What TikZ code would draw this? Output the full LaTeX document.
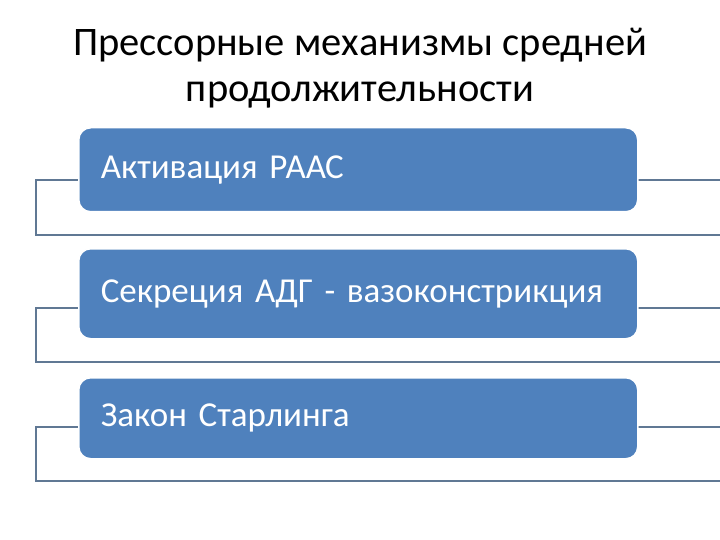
\documentclass[tikz,border=0pt]{standalone}
\usepackage{fontspec}
\setmainfont{Carlito}
\definecolor{boxblue}{RGB}{79,129,189}
\definecolor{bracketline}{RGB}{96,120,148}
\tikzset{
  itembox/.style={draw=white, line width=1.5pt, fill=boxblue, rounded corners=12pt,
    anchor=north west, minimum width=559pt, minimum height=#1, inner xsep=22pt,
    text width=515pt, align=left, text=white, font=\fontsize{35}{42}\selectfont},
  bracket/.style={draw=bracketline, line width=1.6pt},
  titletext/.style={align=center, font=\fontsize{40.5}{46}\selectfont, text=black}
}
\begin{document}
\begin{tikzpicture}[x=1pt,y=-1pt]
\useasboundingbox[fill=white] (0,0) rectangle (720,540);
\node[titletext] (title) at (360,68) {Прессорные механизмы средней\\продолжительности};
% brackets
\coordinate (b1a) at (720,180); \coordinate (b1b) at (36,180);
\coordinate (b1c) at (36,235); \coordinate (b1d) at (720,235);
\draw[bracket] (b1a) -- (b1b) -- (b1c) -- (b1d);
\coordinate (b2a) at (720,308); \coordinate (b2b) at (36,308);
\coordinate (b2c) at (36,362); \coordinate (b2d) at (720,362);
\draw[bracket] (b2a) -- (b2b) -- (b2c) -- (b2d);
\coordinate (b3a) at (720,427); \coordinate (b3b) at (36,427);
\coordinate (b3c) at (36,481); \coordinate (b3d) at (720,481);
\draw[bracket] (b3a) -- (b3b) -- (b3c) -- (b3d);
% boxes
\node[itembox=84pt] (box1) at (78,127) {Активация РААС};
\node[itembox=90pt] (box2) at (78,248) {Секреция АДГ - вазоконстрикция};
\node[itembox=81pt] (box3) at (78,377) {Закон Старлинга};
\end{tikzpicture}
\end{document}
